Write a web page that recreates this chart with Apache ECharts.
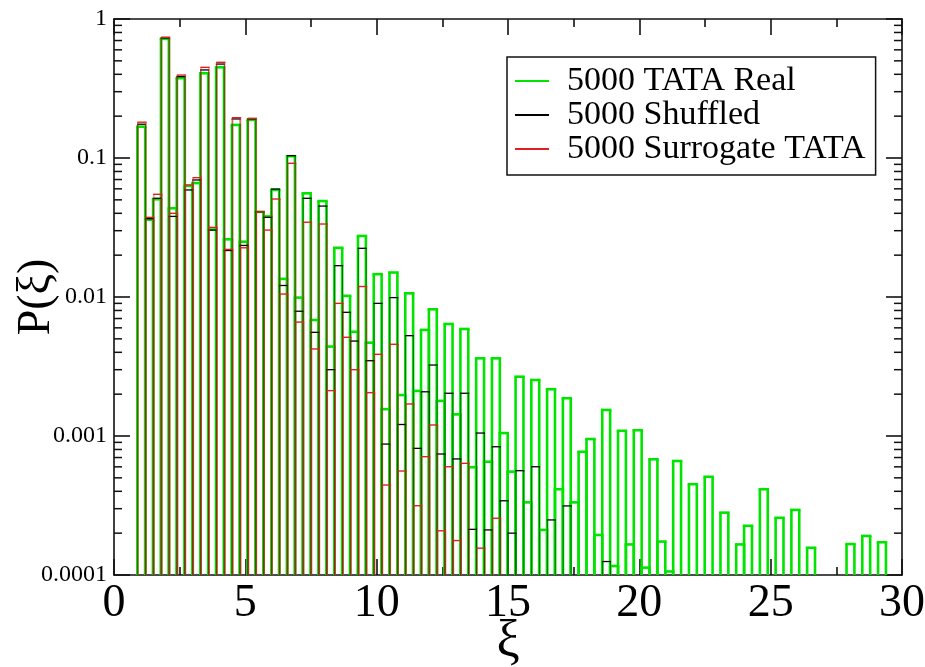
<!DOCTYPE html>
<html><head><meta charset="utf-8">
<script src="https://cdn.jsdelivr.net/npm/echarts@6/dist/echarts.min.js"></script>
<style>html,body{margin:0;padding:0;background:#fff}#c{width:925px;height:667px}</style>
</head><body><div id="c"></div>
<script>
// Histogram bins: left edge = BIN_START + i*BIN_WIDTH
const BIN_START = 0.9, BIN_WIDTH = 0.3;
const Y_MIN = 1e-4, Y_MAX = 1;

const realTATA = [
 0.168, 0.036, 0.0505, 0.72, 0.0435, 0.375, 0.063, 0.066, 0.407, 0.0306,
 0.449, 0.026, 0.173, 0.025, 0.188, 0.041, 0.038, 0.059, 0.0135, 0.103,
 0.0099, 0.0557, 0.00683, 0.049, 0.0044, 0.0226, 0.0102, 0.00562, 0.0275, 0.00469,
 0.0146, 0.00156, 0.015, 0.00197, 0.01063, 0.00211, 0.0058, 0.00816, 0.00179, 0.0064,
 0.00143, 0.00589, 0.000596, 0.00362, 0.000653, 0.00362, 0.00105, 0.000554, 0.00267, 0.000333,
 0.00253, 0.000211, 0.00217, 0.000414, 0.00187, 0.000333, 0.00077, 0.000951, 0.000194, 0.00154,
 0.000116, 0.00109, 0.000166, 0.0011, 0.000113, 0.00068, 0.000174, 0.000106, 0.000661, 0,
 0.00045, 0, 0.000509, 0, 0.000281, 0, 0.000166, 0.000226, 0, 0.000414,
 0, 0.000258, 0, 0.000294, 0, 0.000157, 0, 0, 0, 0,
 0.000167, 0, 0.000191, 0, 0.000172
];
const shuffled = [
 0.175, 0.0366, 0.0513, 0.73, 0.038, 0.385, 0.0589, 0.0695, 0.43, 0.0303,
 0.474, 0.0216, 0.191, 0.0235, 0.191, 0.041, 0.0374, 0.0598, 0.0121, 0.104,
 0.0079, 0.0513, 0.00557, 0.0451, 0.0030, 0.0168, 0.00776, 0.00482, 0.0224, 0.00348,
 0.0090, 0.000875, 0.0099, 0.00121, 0.00527, 0.000815, 0.00208, 0.00324, 0.000742, 0.00203,
 0.000684, 0.00203, 0.000213, 0.00105, 0.000211, 0.000837, 0.000342, 0.0002, 0.000563, 0,
 0.000601, 0, 0.000249, 0, 0.000314, 0, 0, 0, 0, 0.000125,
 0, 0, 0, 0, 0, 0, 0, 0, 0, 0,
 0, 0, 0, 0, 0, 0, 0, 0, 0, 0,
 0, 0, 0, 0, 0, 0, 0, 0, 0, 0,
 0, 0, 0, 0, 0
];
const surrogate = [
 0.181, 0.0374, 0.0548, 0.74, 0.040, 0.395, 0.064, 0.0722, 0.449, 0.0317,
 0.488, 0.022, 0.195, 0.0226, 0.193, 0.041, 0.0303, 0.0507, 0.0105, 0.0916,
 0.0066, 0.0345, 0.00423, 0.0335, 0.00212, 0.0090, 0.00513, 0.0030, 0.0119, 0.00205,
 0.00387, 0.000444, 0.00457, 0.00056, 0.0017, 0.000315, 0.00071, 0.0012, 0.000208, 0.000601,
 0.000177, 0.000636, 0, 0.000156, 0, 0.000256, 0, 0, 0, 0,
 0, 0, 0, 0, 0, 0, 0, 0, 0, 0,
 0, 0, 0, 0, 0, 0, 0, 0, 0, 0,
 0, 0, 0, 0, 0, 0, 0, 0, 0, 0,
 0, 0, 0, 0, 0, 0, 0, 0, 0, 0,
 0, 0, 0, 0, 0
];

const seriesNames = ['5000 TATA Real', '5000 Shuffled', '5000 Surrogate TATA'];
const seriesColors = ['#00e400', '#000000', '#e02020'];
// [top line width, side line width, side opacity, side x-shift]
const seriesStroke = [
  { top: 2.6, side: 2.6, sideOpacity: 1, shift: -0.3 },
  { top: 1.3, side: 1.0, sideOpacity: 0.5, shift: 0 },
  { top: 1.4, side: 1.8, sideOpacity: 0.42, shift: 0.4 }
];
const yDecadeLabels = {'1': '1', '0.1': '0.1', '0.01': '0.01', '0.001': '0.001', '0.0001': '0.0001'};
const yMinorTicks = [];
[1e-4, 1e-3, 1e-2, 1e-1].forEach(d => { for (let k = 2; k <= 9; k++) yMinorTicks.push(+(d * k).toPrecision(3)); });

function toBins(values) {
  const out = [];
  values.forEach((v, i) => {
    if (v > 0) {
      const x0 = +(BIN_START + i * BIN_WIDTH).toFixed(4);
      out.push([x0, +(x0 + BIN_WIDTH).toFixed(4), v]);
    }
  });
  return out;
}

function makeRender(color, st) {
  return function (params, api) {
    const x0 = api.value(0), x1 = api.value(1), v = api.value(2);
    const pTop0 = api.coord([x0, v]);
    const pTop1 = api.coord([x1, v]);
    const b = api.coord([x0, Y_MIN])[1];
    const xl = pTop0[0] + st.shift, xr = pTop1[0] + st.shift, yt = pTop0[1];
    const sideStyle = { stroke: color, lineWidth: st.side, opacity: st.sideOpacity };
    return {
      type: 'group',
      silent: true,
      children: [
        { type: 'line', shape: { x1: xl, y1: b, x2: xl, y2: yt }, style: sideStyle },
        { type: 'line', shape: { x1: xr, y1: b, x2: xr, y2: yt }, style: sideStyle },
        { type: 'line', shape: { x1: xl - st.top / 2, y1: yt, x2: xr + st.top / 2, y2: yt }, style: { stroke: color, lineWidth: st.top } }
      ]
    };
  };
}

const font = 'Liberation Serif, Times New Roman, serif';
const axisLineStyle = { color: '#111', width: 1.6 };

const allData = [realTATA, shuffled, surrogate];
const series = allData.map((vals, k) => ({
  name: seriesNames[k],
  type: 'custom',
  xAxisIndex: 0, yAxisIndex: 0,
  data: toBins(vals),
  encode: { x: [0, 1], y: 2 },
  renderItem: makeRender(seriesColors[k], seriesStroke[k]),
  itemStyle: { color: seriesColors[k] },
  z: 2 + k,
  clip: true
}));

series.push({
  name: 'minorTicks',
  type: 'custom',
  xAxisIndex: 0, yAxisIndex: 0,
  data: yMinorTicks.map(v => [0, v]),
  encode: { x: 0, y: 1 },
  z: 10,
  renderItem: function (params, api) {
    const v = api.value(1);
    const pl = api.coord([0, v]);
    const pr = api.coord([30, v]);
    return {
      type: 'group',
      children: [
        { type: 'line', shape: { x1: pl[0], y1: pl[1], x2: pl[0] + 8, y2: pl[1] }, style: { stroke: '#111', lineWidth: 1.5 } },
        { type: 'line', shape: { x1: pr[0], y1: pr[1], x2: pr[0] - 8, y2: pr[1] }, style: { stroke: '#111', lineWidth: 1.5 } }
      ]
    };
  }
});

const chart = echarts.init(document.getElementById('c'), null, { renderer: 'canvas' });
chart.setOption({
  animation: false,
  backgroundColor: '#fff',
  grid: { left: 114, right: 23, top: 19, bottom: 92, containLabel: false, outerBoundsMode: 'none' },
  legend: {
    data: seriesNames,
    orient: 'vertical',
    left: 507, top: 57,
    icon: 'rect',
    itemWidth: 34, itemHeight: 2,
    itemGap: 0,
    padding: [7, 10, 9, 8],
    backgroundColor: '#fff',
    borderColor: '#111', borderWidth: 1.5,
    borderRadius: 0,
    selectedMode: false,
    textStyle: { fontFamily: font, fontSize: 34, color: '#000', lineHeight: 32, padding: [0, 0, 0, 13] }
  },
  xAxis: [
    {
      type: 'value', min: 0, max: 30, interval: 5, position: 'bottom',
      axisLine: { show: true, onZero: false, lineStyle: axisLineStyle },
      axisTick: { show: true, inside: true, length: 16, lineStyle: axisLineStyle },
      minorTick: { show: true, splitNumber: 2, length: 8, lineStyle: axisLineStyle },
      splitLine: { show: false },
      axisLabel: { fontFamily: font, fontSize: 46, color: '#000', margin: 6 },
      name: 'ξ', nameLocation: 'middle', nameGap: 41, nameMoveOverlap: false,
      nameTextStyle: { fontFamily: font, fontSize: 52, color: '#000', lineHeight: 52 }
    },
    {
      type: 'value', min: 0, max: 30, interval: 5, position: 'top',
      axisLine: { show: true, onZero: false, lineStyle: axisLineStyle },
      axisTick: { show: true, inside: true, length: 16, lineStyle: axisLineStyle },
      minorTick: { show: true, splitNumber: 2, length: 8, lineStyle: axisLineStyle },
      splitLine: { show: false },
      axisLabel: { show: false }
    }
  ],
  yAxis: [
    {
      type: 'log', logBase: 10, min: Y_MIN, max: Y_MAX, position: 'left',
      axisLine: { show: true, onZero: false, lineStyle: axisLineStyle },
      axisTick: { show: true, inside: true, length: 16, lineStyle: axisLineStyle },
      splitLine: { show: false },
      axisLabel: {
        fontFamily: font, fontSize: 24, color: '#000', margin: 7,
        formatter: v => { const s = String(+v.toPrecision(2)); return yDecadeLabels[s] || s; }
      },
      name: 'P(ξ)', nameLocation: 'middle', nameGap: 54, nameMoveOverlap: false,
      nameTextStyle: { fontFamily: font, fontSize: 46, color: '#000' }
    },
    {
      type: 'log', logBase: 10, min: Y_MIN, max: Y_MAX, position: 'right',
      axisLine: { show: true, onZero: false, lineStyle: axisLineStyle },
      axisTick: { show: true, inside: true, length: 16, lineStyle: axisLineStyle },
      splitLine: { show: false },
      axisLabel: { show: false }
    }
  ],
  series: series
});
</script>
</body></html>
